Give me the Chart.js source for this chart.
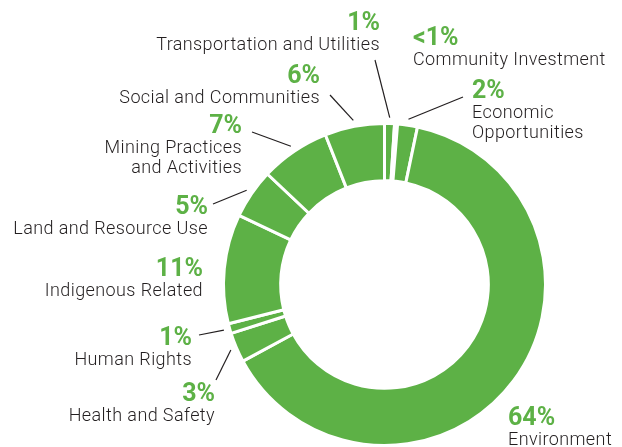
<!DOCTYPE html>
<html>
<head>
<meta charset="utf-8">
<script src="https://cdn.jsdelivr.net/npm/chart.js@4"></script>
<style>
  html, body { margin: 0; padding: 0; background: #fff; }
  #wrap { width: 622px; height: 447px; position: relative; }
</style>
</head>
<body>
<div id="wrap"><canvas id="chart"></canvas></div>
<script>
// clockwise from 12 o'clock
const categories = [
  ['Transportation and Utilities'],
  ['Community Investment'],
  ['Economic', 'Opportunities'],
  ['Environment'],
  ['Health and Safety'],
  ['Human Rights'],
  ['Indigenous Related'],
  ['Land and Resource Use'],
  ['Mining Practices', 'and Activities'],
  ['Social and Communities'],
];
const values = [1, 0.3, 2, 64, 3, 1, 11, 5, 7, 6];
const pctLabels = ['1%', '<1%', '2%', '64%', '3%', '1%', '11%', '5%', '7%', '6%'];

const GREEN = '#5db146';
const TEXT = '#231f20';

// where each label sits and where its leader line ends (null = no line)
const labelLayout = [
  { x: 380, y: 24, align: 'right', line: [375, 60] },
  { x: 413, y: 39, align: 'left', line: null },
  { x: 472, y: 92, align: 'left', line: [463, 97] },
  { x: 508, y: 419, align: 'left', line: null },
  { x: 215, y: 395, align: 'right', line: [216, 380] },
  { x: 192, y: 339, align: 'right', line: [199, 335] },
  { x: 203, y: 270, align: 'right', line: null },
  { x: 208, y: 208, align: 'right', line: [213, 204] },
  { x: 242, y: 127, align: 'right', line: [252, 132] },
  { x: 320, y: 77, align: 'right', line: [330, 95] },
];

const calloutPlugin = {
  id: 'callouts',
  afterDraw(chart) {
    const ctx = chart.ctx;
    const arcs = chart.getDatasetMeta(0).data;
    ctx.save();
    arcs.forEach((arc, i) => {
      const lay = labelLayout[i];
      const p = arc.getProps(['x', 'y', 'startAngle', 'endAngle', 'outerRadius']);
      if (lay.line) {
        const mid = (p.startAngle + p.endAngle) / 2;
        const r = p.outerRadius + 6;
        ctx.beginPath();
        ctx.moveTo(p.x + Math.cos(mid) * r, p.y + Math.sin(mid) * r);
        ctx.lineTo(lay.line[0], lay.line[1]);
        ctx.strokeStyle = '#231f20';
        ctx.lineWidth = 1.2;
        ctx.stroke();
      }
      ctx.textAlign = lay.align;
      ctx.textBaseline = 'middle';
      ctx.letterSpacing = '0px';
      ctx.fillStyle = GREEN;
      ctx.font = 'bold 25px Roboto, "Liberation Sans", sans-serif';
      ctx.fillText(pctLabels[i], lay.x, lay.y);
      ctx.fillStyle = TEXT;
      ctx.letterSpacing = '0.4px';
      ctx.font = '300 18px Roboto, "Liberation Sans", sans-serif';
      categories[i].forEach((line, k) => {
        ctx.fillText(line, lay.x, lay.y + 21 + k * 20.5);
      });
    });
    ctx.restore();
  }
};

new Chart(document.getElementById('chart'), {
  type: 'doughnut',
  data: {
    labels: categories.map((c) => c.join(' ')),
    datasets: [
      {
        data: values,
        backgroundColor: GREEN,
        borderColor: '#ffffff',
        borderWidth: 3,
      },
    ],
  },
  options: {
    responsive: true,
    maintainAspectRatio: false,
    animation: false,
    cutout: '64.5%',
    layout: { padding: { left: 222, right: 75, top: 122, bottom: 0 } },
    plugins: {
      legend: { display: false },
      tooltip: { enabled: false },
    },
  },
  plugins: [calloutPlugin],
});
</script>
</body>
</html>
